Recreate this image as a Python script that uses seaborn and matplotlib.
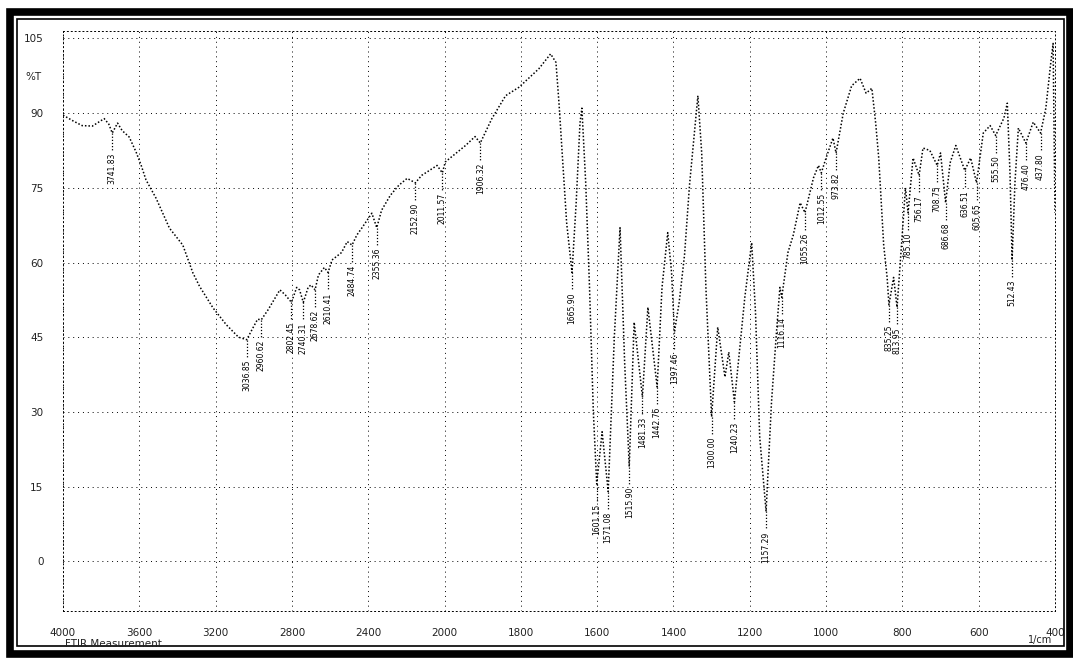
import numpy as np
import pandas as pd
import matplotlib
matplotlib.use("Agg")
import matplotlib.pyplot as plt
from matplotlib.patches import Rectangle
import seaborn as sns

# IR spectrum: wavenumber (1/cm) and transmittance (%T)
wavenumber = [
    4000, 3950, 3900, 3846, 3784, 3760, 3741.83, 3714, 3690, 3653, 3617, 3591,
    3565, 3512, 3442, 3372, 3319, 3284, 3214, 3144, 3080, 3036.85, 3004, 2980,
    2960.62, 2925, 2863, 2835, 2802.45, 2775, 2760, 2740.31, 2715, 2700,
    2678.62, 2661, 2630, 2610.41, 2590, 2540, 2510, 2484.74, 2460, 2434, 2381,
    2355.36, 2330, 2284, 2240, 2196, 2152.90, 2120, 2091, 2039, 2011.57, 1998,
    1945, 1920, 1906.32, 1876, 1840, 1805, 1753, 1722, 1708, 1700, 1690, 1680,
    1665.90, 1655, 1645, 1640, 1630, 1620, 1610, 1601.15, 1587, 1571.08, 1555,
    1540, 1528, 1515.90, 1503, 1481.33, 1467, 1442.76, 1430, 1415, 1405,
    1397.46, 1385, 1371, 1358, 1345, 1336, 1326, 1315, 1300.00, 1284, 1265,
    1255, 1240.23, 1213, 1195, 1185, 1174, 1157.29, 1143, 1130, 1121, 1116.14,
    1100, 1086, 1068, 1055.26, 1033, 1020, 1012.55, 1000, 982, 973.82, 955,
    933, 911, 895, 880, 870, 862, 849, 840, 835.25, 823, 813.95, 800, 792,
    785.10, 772, 756.17, 746, 728, 708.75, 700, 686.68, 675, 660, 636.51, 621,
    605.65, 588, 570, 555.50, 534, 525, 518, 512.43, 505, 496, 476.40, 457,
    437.80, 424, 412, 405, 400,
]
transmittance = [
    89.6, 88.5, 87.5, 87.4, 88.9, 87.8, 86.0, 88.0, 86.5, 85.2, 82.2, 79.6,
    76.6, 72.9, 66.9, 63.5, 57.9, 55.2, 50.9, 47.5, 45.0, 44.5, 46.9, 48.6,
    48.5, 50.5, 54.5, 53.5, 52.0, 55.0, 54.5, 52.0, 55.0, 55.5,
    54.5, 57.5, 59.0, 58.0, 60.5, 62.0, 64.2, 63.5, 65.5, 66.9, 69.9,
    67.0, 70.5, 73.5, 75.5, 76.9, 76.0, 77.5, 78.2, 79.5, 78.0, 80.2,
    83.5, 85.3, 84.0, 88.9, 93.5, 95.2, 98.9, 101.9, 100.2, 92.0, 80.0, 68.0,
    58.0, 72.0, 88.0, 91.0, 76.0, 55.0, 30.0, 15.5, 26.0, 14.0, 45.0,
    67.0, 40.0, 19.0, 48.0, 33.0, 51.0, 35.0, 55.0, 66.0, 58.0,
    46.0, 52.0, 61.5, 75.5, 86.0, 93.5, 82.0, 55.0, 29.0, 47.0, 37.0,
    42.0, 32.0, 53.0, 64.0, 50.0, 25.0, 10.0, 32.0, 46.0, 55.0, 53.0,
    62.0, 65.5, 72.0, 70.0, 77.0, 79.5, 78.0, 81.0, 85.0, 82.0, 90.0,
    95.5, 97.0, 94.0, 95.0, 88.0, 81.0, 63.5, 57.0, 51.5, 57.0, 51.0, 66.0, 75.0,
    70.0, 81.0, 77.5, 83.0, 82.5, 79.5, 82.0, 72.0, 80.0, 83.5, 78.5, 81.0,
    76.0, 86.0, 87.5, 85.5, 89.0, 92.0, 78.0, 60.5, 76.0, 87.0, 84.0, 88.2,
    86.0, 91.0, 99.5, 104.0, 70.0,
]

# Picked absorption bands
peak_wavenumber = [
    3741.83, 3036.85, 2960.62, 2802.45, 2740.31, 2678.62, 2610.41, 2484.74,
    2355.36, 2152.90, 2011.57, 1906.32, 1665.90, 1601.15, 1571.08, 1515.90,
    1481.33, 1442.76, 1397.46, 1300.00, 1240.23, 1157.29, 1116.14, 1055.26,
    1012.55, 973.82, 835.25, 813.95, 785.10, 756.17, 708.75, 686.68, 636.51,
    605.65, 555.50, 512.43, 476.40, 437.80,
]
peak_transmittance = [
    86.0, 44.5, 48.5, 52.0, 52.0, 54.5, 58.0, 63.5,
    67.0, 76.0, 78.0, 84.0, 58.0, 15.5, 14.0, 19.0,
    33.0, 35.0, 46.0, 29.0, 32.0, 10.0, 53.0, 70.0,
    78.0, 82.0, 51.5, 51.0, 70.0, 77.5, 79.5, 72.0, 78.5,
    76.0, 85.5, 60.5, 84.0, 86.0,
]

x_ticks = [4000, 3600, 3200, 2800, 2400, 2000, 1800, 1600, 1400, 1200, 1000, 800, 600, 400]
y_ticks = [105, 90, 75, 60, 45, 30, 15, 0]

sns.set_style("white")
plt.rcParams["font.family"] = ["DejaVu Sans"]

W, H = 1073, 658
fig = plt.figure(figsize=(W / 100, H / 100), dpi=100)
fig.patch.set_facecolor("white")
ax = fig.add_axes([63 / W, 47 / H, (1055 - 63) / W, (611 - 31) / H])


# Wavenumber axis: above 2000 1/cm the scale is compressed by a factor of two
def fwd(w):
    w = np.asarray(w, dtype=float)
    return np.where(w > 2000, 1000 + w / 2, w)


def inv(p):
    p = np.asarray(p, dtype=float)
    return np.where(p > 2000, (p - 1000) * 2, p)


ax.set_xscale("function", functions=(fwd, inv))

spectrum = pd.DataFrame({"wavenumber": wavenumber, "T": transmittance})
sns.lineplot(data=spectrum, x="wavenumber", y="T", sort=False, estimator=None,
             color="black", linewidth=1.1, ax=ax)
for ln in ax.get_lines():
    ln.set_linestyle((0, (1, 1.3)))

# Peak markers: dotted leader and vertical value label
for w, t in zip(peak_wavenumber, peak_transmittance):
    ax.plot([w, w], [t, t - 3.6], color="black", lw=0.9, ls=(0, (1, 1.5)))
    ax.text(w, t - 4.0, f"{w:.2f}", rotation=90, ha="center", va="top",
            fontsize=5.5, color="black")

ax.set_xlim(4000, 400)
ax.set_ylim(-10, 106.5)
ax.set_xticks(x_ticks)
ax.set_xticklabels([str(v) for v in x_ticks])
ax.set_yticks(y_ticks)
ax.set_yticklabels([str(v) for v in y_ticks])
ax.minorticks_off()
ax.set_xlabel("")
ax.set_ylabel("")
ax.tick_params(axis="both", length=0, labelsize=7.5, colors="#222222")
ax.tick_params(axis="y", pad=14)
ax.tick_params(axis="x", pad=12)
ax.grid(True, color="black", linewidth=0.7, linestyle=(0, (1, 4)))
for sp in ax.spines.values():
    sp.set_visible(True)
    sp.set_color("black")
    sp.set_linewidth(0.7)
    sp.set_linestyle((0, (1, 3)))

ax.text(-0.038, 97.2, "%T", transform=ax.get_yaxis_transform(), ha="left",
        va="center", fontsize=7.5, color="#222222")
fig.text(65 / W, 1 - 644 / H, "FTIR Measurement", ha="left", va="center",
         fontsize=7.5, color="#222222")
fig.text(1040 / W, 1 - 640 / H, "1/cm", ha="center", va="center",
         fontsize=7, color="#222222")

# Page frame: heavy outer border with a thin inner rule
fig.add_artist(Rectangle((9.5 / W, 4 / H), (1069.5 - 9.5) / W, (646 - 4) / H,
                         transform=fig.transFigure, fill=False,
                         edgecolor="black", linewidth=5.5))
fig.add_artist(Rectangle((16.5 / W, 12 / H), (1063.5 - 16.5) / W, (639 - 12) / H,
                         transform=fig.transFigure, fill=False,
                         edgecolor="black", linewidth=1.2))

fig.savefig("out.png", dpi=100)
